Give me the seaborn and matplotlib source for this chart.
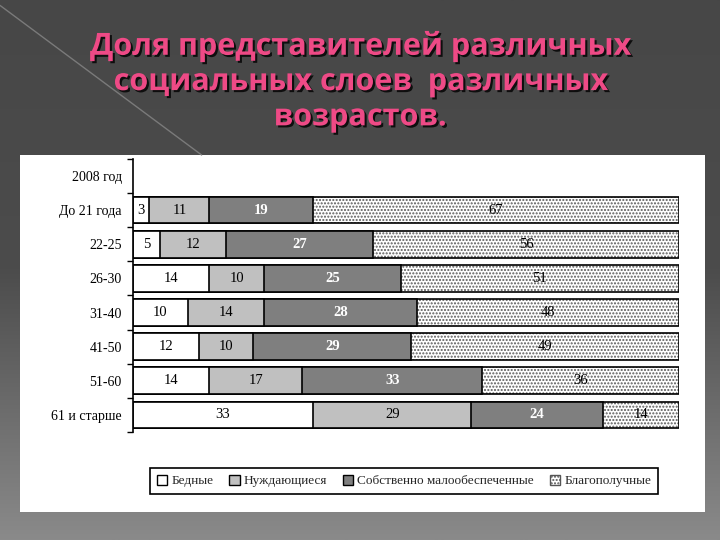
import numpy as np
import pandas as pd
import matplotlib.pyplot as plt
import matplotlib.patheffects as pe
from matplotlib.patches import Rectangle, Patch
import seaborn as sns

# data (percent of each age group)
ages = ['2008 год', 'До 21 года', '22-25', '26-30', '31-40', '41-50', '51-60', '61 и старше']
groups = ['Бедные', 'Нуждающиеся', 'Собственно малообеспеченные', 'Благополучные']
bednye = [3, 5, 14, 10, 12, 14, 33]
nuzhd = [11, 12, 10, 14, 10, 17, 29]
malo = [19, 27, 25, 28, 29, 33, 24]
blago = [67, 56, 51, 48, 49, 36, 14]

title = 'Доля представителей различных\nсоциальных слоев  различных\nвозрастов.'

sns.set_theme(style='white')
plt.rcParams['font.family'] = ['Liberation Serif', 'DejaVu Serif']

df = pd.DataFrame({'age': ages[1:], 'b': bednye, 'n': nuzhd, 'm': malo, 'g': blago})
df['c1'] = df['b']
df['c2'] = df['c1'] + df['n']
df['c3'] = df['c2'] + df['m']
df['c4'] = df['c3'] + df['g']

fig = plt.figure(figsize=(7.2, 5.4), dpi=100)

# slide background
bg = fig.add_axes([0, 0, 1, 1], zorder=-10)
grad = np.linspace(0, 1, 256).reshape(-1, 1)
bg.imshow(grad, aspect='auto', cmap=sns.blend_palette(['#474747', '#4c4c4c', '#8a8a8a'], as_cmap=True),
          extent=[0, 1, 0, 1], origin='upper')
bg.plot([0, 0.28], [0.99, 0.713], color='#7a7a7a', lw=1)
bg.set_xlim(0, 1)
bg.set_ylim(0, 1)
bg.axis('off')
bg.add_patch(Rectangle((0.028, 0.052), 0.951, 0.661, facecolor='white', edgecolor='none'))

fig.text(0.5, 0.943, title, ha='center', va='top', fontsize=22, color='#ee4a86',
         family=['Open Sans', 'DejaVu Sans'], fontweight='bold', linespacing=1.23,
         path_effects=[pe.withSimplePatchShadow(offset=(1.5, -1.5), shadow_rgbFace='black', alpha=0.8)])

ax = fig.add_axes([0.1847, 0.2, 0.7583, 0.5056])
ax.set_facecolor('white')
w = 0.78
kw = dict(data=df, y='age', order=ages, orient='h', width=w, errorbar=None, ax=ax)
sns.barplot(x='c4', color='white', edgecolor='#5a5a5a', linewidth=0, hatch='.....', **kw)
sns.barplot(x='c4', fill=False, edgecolor='black', linewidth=1.2, **kw)
sns.barplot(x='c3', color='#7f7f7f', saturation=1, edgecolor='black', linewidth=1.2, **kw)
sns.barplot(x='c2', color='#c0c0c0', saturation=1, edgecolor='black', linewidth=1.2, **kw)
sns.barplot(x='c1', color='white', saturation=1, edgecolor='black', linewidth=1.2, **kw)

for i, row in df.iterrows():
    y = ages.index(row['age'])
    for col, cum, tc in [('b', 'c1', 'black'), ('n', 'c2', 'black'), ('m', 'c3', 'white'), ('g', 'c4', 'black')]:
        ax.text(row[cum] - row[col] / 2, y, str(row[col]), ha='center', va='center',
                fontsize=10.5, color=tc, fontweight='bold' if tc == 'white' else 'normal')

ax.set_xlim(0, 100)
ax.set_ylim(len(ages) - 0.5, -0.5)
ax.set_xlabel('')
ax.set_ylabel('')
ax.set_xticks([])
for s in ['top', 'right', 'bottom']:
    ax.spines[s].set_visible(False)
ax.spines['left'].set_color('black')
ax.spines['left'].set_linewidth(1.2)
ax.tick_params(axis='y', which='major', length=0, labelsize=10, pad=8, colors='black')
ax.set_yticks(np.arange(len(ages) + 1) - 0.5, minor=True)
ax.tick_params(axis='y', which='minor', length=4, width=1, color='black', left=True)

handles = [Patch(facecolor='white', edgecolor='black'),
           Patch(facecolor='#c0c0c0', edgecolor='black'),
           Patch(facecolor='#7f7f7f', edgecolor='black'),
           Patch(facecolor='white', edgecolor='#555555', hatch='.....')]
leg = fig.legend(handles, groups, loc='center', bbox_to_anchor=(0.561, 0.109), ncol=4,
                 fontsize=9.5, handlelength=0.8, handleheight=0.8, handletextpad=0.3,
                 columnspacing=1.2, fancybox=False, framealpha=1, borderpad=0.5)
leg.get_frame().set_edgecolor('black')
leg.get_frame().set_linewidth(1.2)

fig.savefig('out.png', dpi=100)
